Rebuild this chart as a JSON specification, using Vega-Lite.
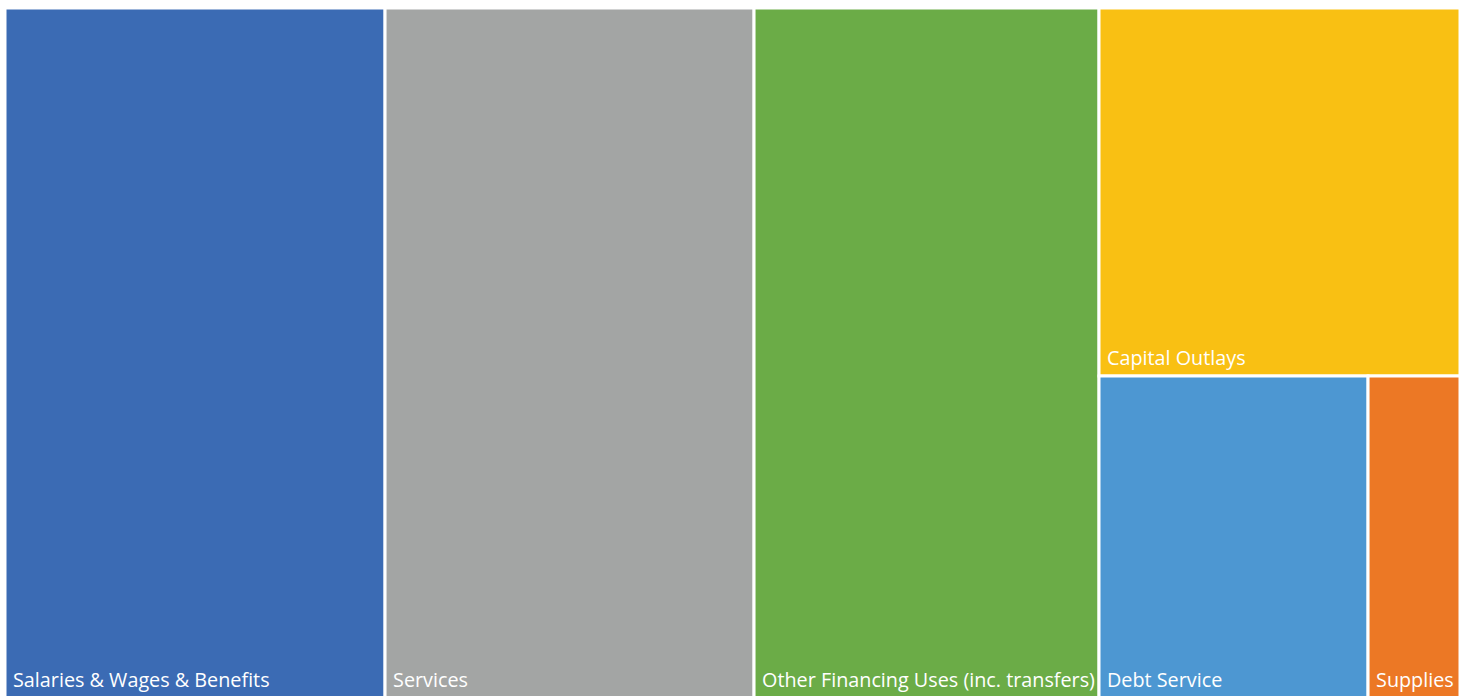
{
  "$schema": "https://vega.github.io/schema/vega-lite/v6.json",
  "width": 1455,
  "height": 690,
  "autosize": {"type": "none"},
  "padding": {"left": 5, "top": 8, "right": 8, "bottom": 0},
  "background": "white",
  "view": {"stroke": null},
  "data": {
    "values": [
      {"category": "Salaries & Wages & Benefits", "value": 26.12, "col": 1, "sub": 1, "ord": 1},
      {"category": "Services", "value": 25.36, "col": 2, "sub": 1, "ord": 1},
      {"category": "Other Financing Uses (inc. transfers)", "value": 23.71, "col": 3, "sub": 1, "ord": 1},
      {"category": "Capital Outlays", "value": 13.23, "col": 4, "sub": 1, "ord": 1},
      {"category": "Debt Service", "value": 8.63, "col": 4, "sub": 2, "ord": 1},
      {"category": "Supplies", "value": 2.95, "col": 4, "sub": 2, "ord": 2}
    ]
  },
  "transform": [
    {"joinaggregate": [{"op": "sum", "field": "value", "as": "total"}]},
    {"joinaggregate": [{"op": "sum", "field": "value", "as": "colTotal"}], "groupby": ["col"]},
    {"joinaggregate": [{"op": "sum", "field": "value", "as": "subTotal"}], "groupby": ["col", "sub"]},
    {"window": [{"op": "sum", "field": "value", "as": "cumCol"}], "sort": [{"field": "col", "order": "ascending"}], "frame": [null, 0]},
    {"window": [{"op": "sum", "field": "value", "as": "cumSub"}], "groupby": ["col"], "sort": [{"field": "sub", "order": "ascending"}], "frame": [null, 0]},
    {"window": [{"op": "sum", "field": "value", "as": "cumItem"}], "groupby": ["col", "sub"], "sort": [{"field": "ord", "order": "ascending"}], "frame": [null, 0]},
    {"calculate": "(datum.cumCol - datum.colTotal) / datum.total", "as": "colStart"},
    {"calculate": "datum.colTotal / datum.total", "as": "colWidth"},
    {"calculate": "datum.colStart + datum.colWidth * (datum.cumItem - datum.value) / datum.subTotal", "as": "x0"},
    {"calculate": "datum.colStart + datum.colWidth * datum.cumItem / datum.subTotal", "as": "x1"},
    {"calculate": "(datum.cumSub - datum.subTotal) / datum.colTotal", "as": "y0"},
    {"calculate": "datum.cumSub / datum.colTotal", "as": "y1"}
  ],
  "encoding": {
    "x": {"field": "x0", "type": "quantitative", "scale": {"domain": [0, 1], "nice": false, "zero": false}, "axis": null},
    "y": {"field": "y0", "type": "quantitative", "scale": {"domain": [0, 1], "nice": false, "zero": false, "reverse": true}, "axis": null}
  },
  "layer": [
    {
      "mark": {"type": "rect", "stroke": "white", "strokeWidth": 3},
      "encoding": {
        "x2": {"field": "x1"},
        "y2": {"field": "y1"},
        "color": {
          "field": "category",
          "type": "nominal",
          "scale": {
            "domain": ["Salaries & Wages & Benefits", "Services", "Other Financing Uses (inc. transfers)", "Capital Outlays", "Debt Service", "Supplies"],
            "range": ["#3B6BB4", "#A3A5A4", "#6BAC47", "#F9C013", "#4D97D2", "#EC7825"]
          },
          "legend": null
        }
      }
    },
    {
      "mark": {"type": "text", "align": "left", "baseline": "alphabetic", "dx": 8, "dy": -11, "color": "white", "font": "Open Sans", "fontSize": 19.8},
      "encoding": {
        "y": {"field": "y1", "type": "quantitative"},
        "text": {"field": "category"}
      }
    }
  ]
}
